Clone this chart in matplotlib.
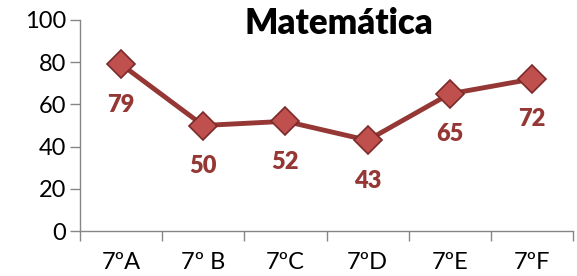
import matplotlib
matplotlib.use("Agg")
import matplotlib.pyplot as plt
import numpy as np

categories = ["7ºA", "7º B", "7ºC", "7ºD", "7ºE", "7ºF"]
values = [79, 50, 52, 43, 65, 72]
y_ticks = [0, 20, 40, 60, 80, 100]
title = "Matemática"

plt.rcParams['font.family'] = ['Lato', 'DejaVu Sans']

fig = plt.figure(figsize=(5.77, 2.76), dpi=100)
ax = fig.add_axes([80/577, 1-231/276, (573-80)/577, (231-20)/276])

x = np.arange(len(categories)) + 0.5
ax.plot(x, values, color="#953735", lw=3.5, zorder=2)
ax.plot(x, values, linestyle="none", marker="D", markersize=14,
        markerfacecolor="#c0504d", markeredgecolor="#7a2a28", markeredgewidth=1.2, zorder=3)

for xi, v in zip(x, values):
    ax.annotate(str(v), (xi, v), xytext=(0, -29), textcoords="offset points",
                ha="center", va="center", color="#953735", fontsize=17, fontweight="heavy")

ax.set_xlim(0, len(categories))
ax.set_ylim(0, 100)
ax.set_yticks(y_ticks)
ax.set_xticks(np.arange(len(categories) + 1))
ax.set_xticklabels([])
ax.set_xticks(x, minor=True)
ax.set_xticklabels(categories, minor=True)
ax.tick_params(axis="x", which="minor", length=0, pad=15, labelsize=17)
ax.tick_params(axis="x", which="major", length=7, color="#868686", width=1)
ax.tick_params(axis="y", length=7, color="#868686", width=1, labelsize=17, pad=3)

for s in ["top", "right"]:
    ax.spines[s].set_visible(False)
for s in ["left", "bottom"]:
    ax.spines[s].set_color("#868686")
    ax.spines[s].set_linewidth(1)

fig.text(339/577, 1-24/276, title, ha="center", va="center", fontsize=25, fontweight="heavy")

fig.savefig("out.png", dpi=100)
